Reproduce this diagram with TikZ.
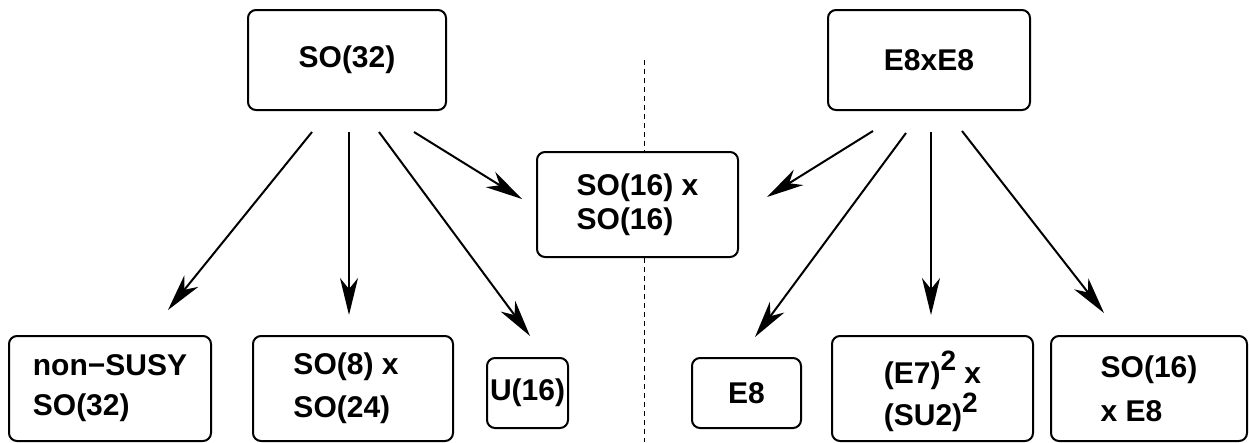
\documentclass[tikz,border=0pt]{standalone}
\usepackage{fontspec}
\setmainfont{Liberation Sans}
\usetikzlibrary{arrows.meta,calc}
\newcommand{\supii}{\raisebox{13pt}{\fontsize{28}{28}\selectfont 2}}
\begin{document}
\begin{tikzpicture}[x=1pt,y=-1pt,
  box/.style={draw,line width=2pt,rounded corners=8pt,fill=white,align=left,inner sep=0pt},
  txt/.style={font=\bfseries\fontsize{30}{#1}\selectfont},
  arr/.style={line width=2pt,-{Stealth[length=37pt,width=18pt,inset=11pt]}},
  sep/.style={line width=1pt,dash pattern=on 5pt off 4pt}]
\useasboundingbox (0,0) rectangle (1249,442);
\coordinate (dtop) at (644,60);
\coordinate (dbot) at (644,442);
\draw[sep] (dtop) -- (dbot);
% top nodes
\node[box,txt=36,minimum width=198pt,minimum height=100pt] (so32) at (347,60) {SO(32)};
\node[box,txt=36,minimum width=202pt,minimum height=100pt] (e8e8) at (929,60) {E8xE8};
\node[box,txt=34,minimum width=201pt,minimum height=105pt] (so16so16) at (637.5,204.5) {SO(16) x\\SO(16)};
% bottom nodes
\node[box,txt=40,minimum width=202pt,minimum height=105pt] (nonsusy) at (110,388.5) {non−SUSY\\SO(32)};
\node[box,txt=43,minimum width=200pt,minimum height=105pt] (so8) at (353,388.5) {SO(8) x\hspace*{14pt}\\SO(24)};
\node[box,txt=36,minimum width=81pt,minimum height=70pt] (u16) at (527.5,393) {U(16)};
\node[box,txt=36,minimum width=109pt,minimum height=70pt] (e8) at (746.5,393) {E8};
\node[box,txt=42,minimum width=201pt,minimum height=105pt,text depth=0pt] (e7) at (932.5,388.5) {(E7)\supii{} x\\(SU2)\supii};
\node[box,txt=44,minimum width=196pt,minimum height=105pt] (so16e8) at (1149,388.5) {SO(16)\\x E8};
% arrows from SO(32)
\draw[arr] ($(so32.south)+(-35,21)$) -- ($(nonsusy.north)+(58,-25)$);
\draw[arr] ($(so32.south)+(2,21)$) -- ($(so8.north)+(-4,-20)$);
\draw[arr] ($(so32.south)+(32,21)$) -- ($(u16.north)+(2.5,-21)$);
\draw[arr] ($(so32.south)+(67,21)$) -- ($(so16so16.west)+(-14,-5.5)$);
% arrows from E8xE8
\draw[arr] ($(e8e8.south)+(-56,20)$) -- ($(so16so16.east)+(28,-7.5)$);
\draw[arr] ($(e8e8.south)+(-23,22)$) -- ($(e8.north)+(8.5,-20)$);
\draw[arr] ($(e8e8.south)+(2,21)$) -- ($(e7.north)+(-1.5,-20)$);
\draw[arr] ($(e8e8.south)+(33,20)$) -- ($(so16e8.north)+(-45,-22)$);
\end{tikzpicture}
\end{document}
